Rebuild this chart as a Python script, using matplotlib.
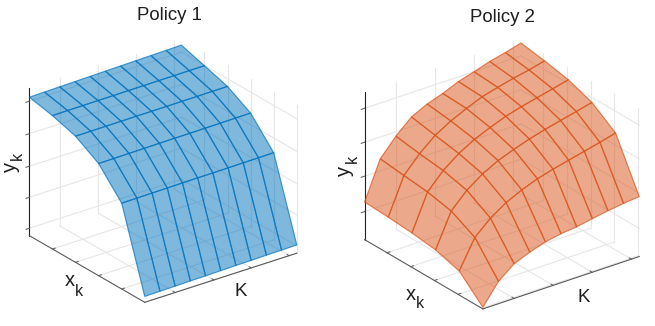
import matplotlib
matplotlib.use('Agg')
import matplotlib.pyplot as plt
import numpy as np

plt.rcParams['font.family'] = ['Liberation Sans', 'DejaVu Sans']

# state grid (normalised, the original axes have no numbers)
x_vals = [0, 0.2, 0.4, 0.6, 0.8, 1.0]
K_vals = [0, 0.1, 0.2, 0.3, 0.4, 0.5, 0.6, 0.7, 0.8, 0.9, 1.0]

# one row per x value, one column per K value
policy1 = [
    [.937, .939, .941, .943, .945, .947, .949, .951, .953, .955, .957],
    [.903, .904, .904, .905, .905, .906, .906, .907, .907, .908, .908],
    [.854, .854, .855, .855, .856, .856, .856, .857, .857, .858, .858],
    [.759, .760, .761, .762, .763, .764, .764, .765, .766, .767, .768],
    [.581, .582, .583, .584, .585, .586, .586, .587, .588, .589, .590],
    [.040, .042, .043, .045, .046, .048, .050, .051, .053, .054, .056],
]
policy2 = [
    [.255, .512, .630, .725, .777, .813, .858, .889, .923, .948, .977],
    [.246, .493, .605, .694, .756, .805, .849, .877, .903, .924, .950],
    [.233, .475, .585, .665, .725, .770, .810, .840, .865, .890, .916],
    [.212, .440, .545, .620, .675, .715, .750, .780, .805, .830, .856],
    [.163, .355, .450, .520, .570, .610, .640, .665, .690, .715, .743],
    [.011, .151, .235, .278, .312, .332, .343, .363, .381, .395, .406],
]

# tick places
x_ticks1 = [0.2, 0.4, 0.6, 0.8, 1.0]
K_ticks1 = [0.2, 0.455, 0.70, 0.95]
z_ticks1 = [0.05, 0.26, 0.47, 0.69, 0.91]
x_ticks2 = [0.19, 0.39, 0.59, 0.79, 0.99]
K_ticks2 = [0.2, 0.45, 0.70, 0.95]
z_ticks2 = [0.19, 0.43, 0.66, 0.89]

GRID = '#e6e6e6'
AXC = '#5a5a5a'
TXT = '#1f1f1f'


def draw_panel(fig, rect, z, col, x_ticks, K_ticks, z_ticks, elev, azim, aspect):
    ax = fig.add_axes(rect, projection='3d', proj_type='ortho', computed_zorder=False)
    ax.set_box_aspect(aspect)
    ax.view_init(elev=elev, azim=azim)
    ax.set_xlim(0, 1)
    ax.set_ylim(0, 1)
    ax.set_zlim(0, 1)
    ax.set_axis_off()
    ax.patch.set_alpha(0)

    # grid on floor and the two back walls
    for t in x_ticks:
        ax.plot([t, t], [0, 1], [0, 0], color=GRID, lw=0.8, zorder=1)
        ax.plot([t, t], [1, 1], [0, 1], color=GRID, lw=0.8, zorder=1)
    for t in K_ticks:
        ax.plot([0, 1], [t, t], [0, 0], color=GRID, lw=0.8, zorder=1)
        ax.plot([0, 0], [t, t], [0, 1], color=GRID, lw=0.8, zorder=1)
    for t in z_ticks:
        ax.plot([0, 0], [0, 1], [t, t], color=GRID, lw=0.8, zorder=1)
        ax.plot([0, 1], [1, 1], [t, t], color=GRID, lw=0.8, zorder=1)

    # axes lines and tick marks
    ax.plot([0, 0], [0, 0], [0, 1], color='#202020', lw=0.8, zorder=2)
    ax.plot([0, 1], [0, 0], [0, 0], color=AXC, lw=0.8, zorder=2)
    ax.plot([1, 1], [0, 1], [0, 0], color=AXC, lw=0.8, zorder=2)
    for t in x_ticks[:4]:
        ax.plot([t, t], [0, 0.018], [0, 0], color=AXC, lw=0.7, zorder=2)
    for t in K_ticks:
        ax.plot([1, 0.982], [t, t], [0, 0], color=AXC, lw=0.7, zorder=2)
    for t in z_ticks:
        ax.plot([0, 0], [0, -0.022], [t, t], color=AXC, lw=0.7, zorder=2)

    X, Y = np.meshgrid(x_vals, K_vals, indexing='ij')
    rgb = matplotlib.colors.to_rgb(col)
    ax.plot_surface(X, Y, np.array(z), rstride=1, cstride=1, shade=False,
                    color=rgb + (0.5,), edgecolor=rgb + (0.7,), linewidth=0.85, zorder=3)
    return ax


fig = plt.figure(figsize=(6.55, 3.26), dpi=100)

draw_panel(fig, [5.4 / 655, -2.2 / 326, 307 / 655, 307 / 326], policy1, '#0072BD',
           x_ticks1, K_ticks1, z_ticks1, 25.6, -36.8, (1.0, 0.985, 0.85))
draw_panel(fig, [341.2 / 655, -9 / 326, 313 / 655, 313 / 326], policy2, '#D95319',
           x_ticks2, K_ticks2, z_ticks2, 26.3, -37.1, (1, 1, 0.84))


# titles and axis names
def put(px, py, s, size=13.4, rot=0):
    fig.text(px / 655, 1 - py / 326, s, fontsize=size, rotation=rot, color=TXT,
             ha='center', va='center')


put(169, 15, 'Policy 1')
put(502, 17.5, 'Policy 2')
put(10, 167, 'y', 14.5, 90)
put(17, 156, 'k', 11.5, 90)
put(70, 281, 'x', 14.5)
put(79, 291, 'k', 11.5)
put(241, 291, 'K', 13.5)
put(344, 171, 'y', 14.5, 90)
put(352, 159, 'k', 11.5, 90)
put(411, 294, 'x', 14.5)
put(420, 304, 'k', 11.5)
put(584, 297, 'K', 13.5)

fig.savefig('out.png', dpi=100)
